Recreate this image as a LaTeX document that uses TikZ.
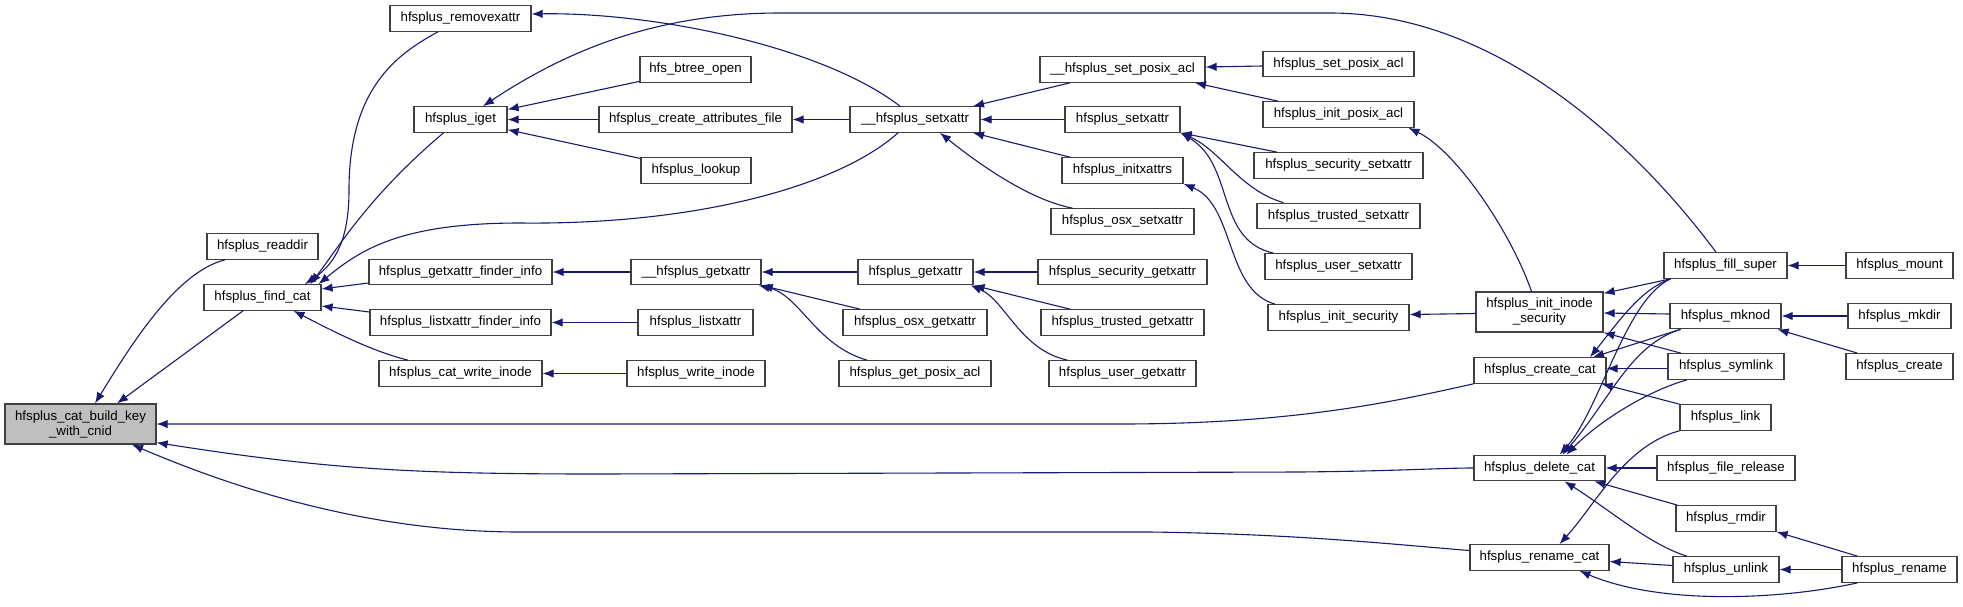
\documentclass[tikz,border=0pt]{standalone}
\usepackage{fontspec}
\setmainfont{Liberation Sans}
\usetikzlibrary{arrows.meta,calc}
\definecolor{edgecol}{HTML}{191970}
\definecolor{rootfill}{HTML}{BFBFBF}
\definecolor{boxline}{HTML}{404040}
\begin{document}
\begin{tikzpicture}[x=1pt,y=-1pt,
  fn/.style={draw=boxline, line width=1.2pt, fill=white, inner sep=0pt, minimum height=25.5pt,
    font=\fontsize{13.3}{15}\selectfont, align=center},
  rootfn/.style={fn, fill=rootfill, minimum height=40pt},
  twofn/.style={fn, minimum height=40pt},
  conn/.style={draw=edgecol, line width=1.1pt, {Latex[length=11pt,width=8.5pt]}-}]
\useasboundingbox (0,0) rectangle (1963,606);
% nodes
\node[rootfn, minimum width=151pt] (build) at (80.5,424) {hfsplus\_cat\_build\_key\\\_with\_cnid};
\node[fn, minimum width=111pt] (readdir) at (262.5,246.5) {hfsplus\_readdir};
\node[fn, minimum width=117pt] (findcat) at (262.5,297.5) {hfsplus\_find\_cat};
\node[fn, minimum width=141pt] (removex) at (460.5,18.5) {hfsplus\_removexattr};
\node[fn, minimum width=93pt] (iget) at (460.5,119.5) {hfsplus\_iget};
\node[fn, minimum width=183pt] (gxfi) at (460.5,272) {hfsplus\_getxattr\_finder\_info};
\node[fn, minimum width=181pt] (lxfi) at (460.5,322.5) {hfsplus\_listxattr\_finder\_info};
\node[fn, minimum width=163pt] (cwi) at (460.5,373.5) {hfsplus\_cat\_write\_inode};
\node[fn, minimum width=111pt] (btree) at (695.5,69.5) {hfs\_btree\_open};
\node[fn, minimum width=193pt] (caf) at (695.5,119.5) {hfsplus\_create\_attributes\_file};
\node[fn, minimum width=110pt] (lookup) at (696,170.5) {hfsplus\_lookup};
\node[fn, minimum width=130pt] (usetx) at (915,119.5) {\_\_hfsplus\_setxattr};
\node[fn, minimum width=130pt] (ugetx) at (696,272) {\_\_hfsplus\_getxattr};
\node[fn, minimum width=115pt] (getx) at (915.5,272) {hfsplus\_getxattr};
\node[fn, minimum width=115pt] (listx) at (695.5,322.5) {hfsplus\_listxattr};
\node[fn, minimum width=138pt] (wino) at (696,373.5) {hfsplus\_write\_inode};
\node[fn, minimum width=144pt] (osxget) at (915,322.5) {hfsplus\_osx\_getxattr};
\node[fn, minimum width=152pt] (getpacl) at (915,373.5) {hfsplus\_get\_posix\_acl};
\node[fn, minimum width=165pt] (usetpacl) at (1122.5,69.5) {\_\_hfsplus\_set\_posix\_acl};
\node[fn, minimum width=151pt] (setpacl) at (1338.5,64) {hfsplus\_set\_posix\_acl};
\node[fn, minimum width=151pt] (initpacl) at (1338.5,114.5) {hfsplus\_init\_posix\_acl};
\node[fn, minimum width=115pt] (setx) at (1122.5,119.5) {hfsplus\_setxattr};
\node[fn, minimum width=169pt] (secset) at (1338.5,165.5) {hfsplus\_security\_setxattr};
\node[fn, minimum width=121pt] (initx) at (1122.5,170.5) {hfsplus\_initxattrs};
\node[fn, minimum width=163pt] (trset) at (1338.5,216) {hfsplus\_trusted\_setxattr};
\node[fn, minimum width=143pt] (osxset) at (1122.5,221.5) {hfsplus\_osx\_setxattr};
\node[fn, minimum width=147pt] (usrset) at (1338.5,266.5) {hfsplus\_user\_setxattr};
\node[fn, minimum width=169pt] (secget) at (1122.5,272) {hfsplus\_security\_getxattr};
\node[fn, minimum width=141pt] (initsec) at (1338.5,317.5) {hfsplus\_init\_security};
\node[fn, minimum width=163pt] (trget) at (1122.5,322.5) {hfsplus\_trusted\_getxattr};
\node[fn, minimum width=147pt] (usrget) at (1122.5,373.5) {hfsplus\_user\_getxattr};
\node[fn, minimum width=123pt] (fill) at (1725.5,265.5) {hfsplus\_fill\_super};
\node[fn, minimum width=107pt] (mount) at (1899.5,265.5) {hfsplus\_mount};
\node[twofn, minimum width=127pt] (iis) at (1539.5,312) {hfsplus\_init\_inode\\\_security};
\node[fn, minimum width=111pt] (mknod) at (1725.5,316) {hfsplus\_mknod};
\node[fn, minimum width=103pt] (mkdir) at (1899.5,316) {hfsplus\_mkdir};
\node[fn, minimum width=132pt] (createcat) at (1540,370.5) {hfsplus\_create\_cat};
\node[fn, minimum width=116pt] (symlink) at (1726,366.5) {hfsplus\_symlink};
\node[fn, minimum width=107pt] (create) at (1899.5,366.5) {hfsplus\_create};
\node[fn, minimum width=91pt] (link) at (1725.5,417.5) {hfsplus\_link};
\node[fn, minimum width=131pt] (deletecat) at (1539.5,468) {hfsplus\_delete\_cat};
\node[fn, minimum width=138pt] (frel) at (1726,468) {hfsplus\_file\_release};
\node[fn, minimum width=100pt] (rmdir) at (1726,518.5) {hfsplus\_rmdir};
\node[fn, minimum width=139pt] (renamecat) at (1539.5,557.5) {hfsplus\_rename\_cat};
\node[fn, minimum width=106pt] (unlink) at (1726,569.5) {hfsplus\_unlink};
\node[fn, minimum width=115pt] (rename) at (1899.5,569.5) {hfsplus\_rename};
% connectors (arrow at callee)
\draw[conn] ($(build.north)+(14.5,0)$) .. controls (128,350) and (175,272) .. ($(readdir.south)+(-37.5,0)$);
\draw[conn] ($(build.north)+(36.5,0)$) -- ($(findcat.south)+(-19.5,0)$);
\draw[conn] (build.east) -- (1120,424) .. controls (1300,424) and (1400,400) .. (createcat.south west);
\draw[conn] ($(build.south east)+(0,-2)$) .. controls (330,470) and (420,474) .. (600,474) -- (1300,472) .. controls (1400,471) and (1440,468) .. (deletecat.west);
\draw[conn] ($(build.south)+(51.5,0)$) .. controls (250,495) and (380,532) .. (520,532) -- (1150,532) .. controls (1300,534) and (1400,545) .. ($(renamecat.west)+(0,-7)$);
\draw[conn] ($(findcat.north)+(42.5,0)$) .. controls (338,262) and (349,235) .. (349,190) .. controls (349,90) and (395,55) .. ($(removex.south)+(-22.5,0)$);
\draw[conn] ($(findcat.north)+(48,0)$) .. controls (340,245) and (370,195) .. ($(iget.south)+(-17,0)$);
\draw[conn] ($(findcat.north)+(56,0)$) .. controls (360,250) and (400,223) .. (520,223) .. controls (700,225) and (840,185) .. ($(usetx.south)+(-17,0)$);
\draw[conn] ($(findcat.east)+(0,-8.5)$) -- ($(gxfi.west)+(0,11)$);
\draw[conn] ($(findcat.east)+(0,8.5)$) -- ($(lxfi.west)+(0,-10.5)$);
\draw[conn] ($(findcat.south)+(31,0)$) .. controls (340,335) and (375,352) .. ($(cwi.north)+(-52.5,0)$);
\draw[conn] ($(iget.north)+(22.5,0)$) .. controls (560,55) and (650,13) .. (780,13) -- (1330,13) .. controls (1500,13) and (1640,150) .. ($(fill.north)+(-9.5,0)$);
\draw[conn] (iget) -- (btree);
\draw[conn] (iget) -- (caf);
\draw[conn] (iget) -- (lookup);
\draw[conn] ($(removex.east)+(0,-4.5)$) .. controls (650,12) and (820,45) .. ($(usetx.north)+(-15,0)$);
\draw[conn] (caf) -- (usetx);
\draw[conn] ($(usetx.north)+(58,0)$) -- ($(usetpacl.south)+(-52.5,0)$);
\draw[conn] (usetx) -- (setx);
\draw[conn] ($(usetx.south)+(58,0)$) -- ($(initx.north)+(-52.5,0)$);
\draw[conn] ($(usetx.south)+(25,0)$) .. controls (980,165) and (1030,200) .. ($(osxset.north)+(-50,0)$);
\draw[conn] ($(usetpacl.east)+(0,-2.5)$) -- ($(setpacl.west)+(0,2)$);
\draw[conn] ($(usetpacl.south)+(72.5,0)$) -- ($(initpacl.north)+(-60.5,0)$);
\draw[conn] (setx.south east) -- ($(secset.north)+(-61.5,0)$);
\draw[conn] (setx.south east) .. controls (1220,150) and (1240,190) .. ($(trset.north)+(-55,0)$);
\draw[conn] (setx.south east) .. controls (1235,165) and (1215,240) .. ($(usrset.north)+(-65,0)$);
\draw[conn] ($(initpacl.south)+(70,0)$) .. controls (1455,150) and (1510,230) .. ($(iis.north)+(-8,0)$);
\draw[conn] (initx.south east) .. controls (1235,205) and (1225,290) .. ($(initsec.north)+(-63.5,0)$);
\draw[conn] ($(initsec.east)+(0,-3)$) -- ($(iis.west)+(0,1.5)$);
\draw[conn] ($(iis.north east)+(0,2)$) -- ($(fill.south)+(-55,0)$);
\draw[conn] ($(iis.east)+(0,1)$) -- ($(mknod.west)+(0,-2)$);
\draw[conn] (iis.south east) -- ($(symlink.north)+(-45,0)$);
\draw[conn] ($(createcat.north)+(50,0)$) .. controls (1620,320) and (1640,290) .. ($(fill.south)+(-55,0)$);
\draw[conn] ($(createcat.north)+(53,0)$) -- ($(mknod.south)+(-45,0)$);
\draw[conn] ($(createcat.east)+(0,-2)$) -- ($(symlink.west)+(0,2)$);
\draw[conn] ($(createcat.south east)+(-5,0)$) -- (link.north west);
\draw[conn] ($(deletecat.north)+(20,0)$) .. controls (1600,410) and (1625,300) .. ($(fill.south)+(-55,0)$);
\draw[conn] ($(deletecat.north)+(23,0)$) .. controls (1610,400) and (1630,345) .. ($(mknod.south)+(-45,0)$);
\draw[conn] ($(deletecat.north)+(27,0)$) .. controls (1600,420) and (1650,390) .. ($(symlink.south)+(-39,0)$);
\draw[conn] (deletecat) -- (frel);
\draw[conn] ($(deletecat.south)+(55,0)$) -- ($(rmdir.north west)+(2,0)$);
\draw[conn] ($(deletecat.south)+(25,0)$) .. controls (1610,510) and (1650,545) .. ($(unlink.north)+(-39,0)$);
\draw[conn] ($(renamecat.north)+(20,0)$) .. controls (1595,505) and (1625,445) .. (link.south west);
\draw[conn] ($(renamecat.east)+(0,4)$) -- ($(unlink.west)+(0,-4)$);
\draw[conn] ($(renamecat.south)+(40,0)$) .. controls (1660,605) and (1780,600) .. ($(rename.south)+(-42,0)$);
\draw[conn] (unlink) -- (rename);
\draw[conn] (rmdir.south east) -- ($(rename.north)+(-42,0)$);
\draw[conn] (mknod) -- (mkdir);
\draw[conn] ($(mknod.south east)+(-4,0)$) -- ($(create.north)+(-42,0)$);
\draw[conn] (fill) -- (mount);
\draw[conn] (gxfi) -- (ugetx);
\draw[conn] (lxfi) -- (listx);
\draw[conn] (cwi) -- (wino);
\draw[conn] (ugetx) -- (getx);
\draw[conn] (ugetx.south east) -- ($(osxget.north)+(-55,0)$);
\draw[conn] ($(ugetx.south east)+(-3,0)$) .. controls (800,295) and (815,345) .. ($(getpacl.north)+(-48,0)$);
\draw[conn] (getx) -- (secget);
\draw[conn] (getx.south east) -- ($(trget.north)+(-52.5,0)$);
\draw[conn] ($(getx.south east)+(-3,0)$) .. controls (1005,300) and (1020,350) .. ($(usrget.north)+(-55,0)$);
\end{tikzpicture}
\end{document}
